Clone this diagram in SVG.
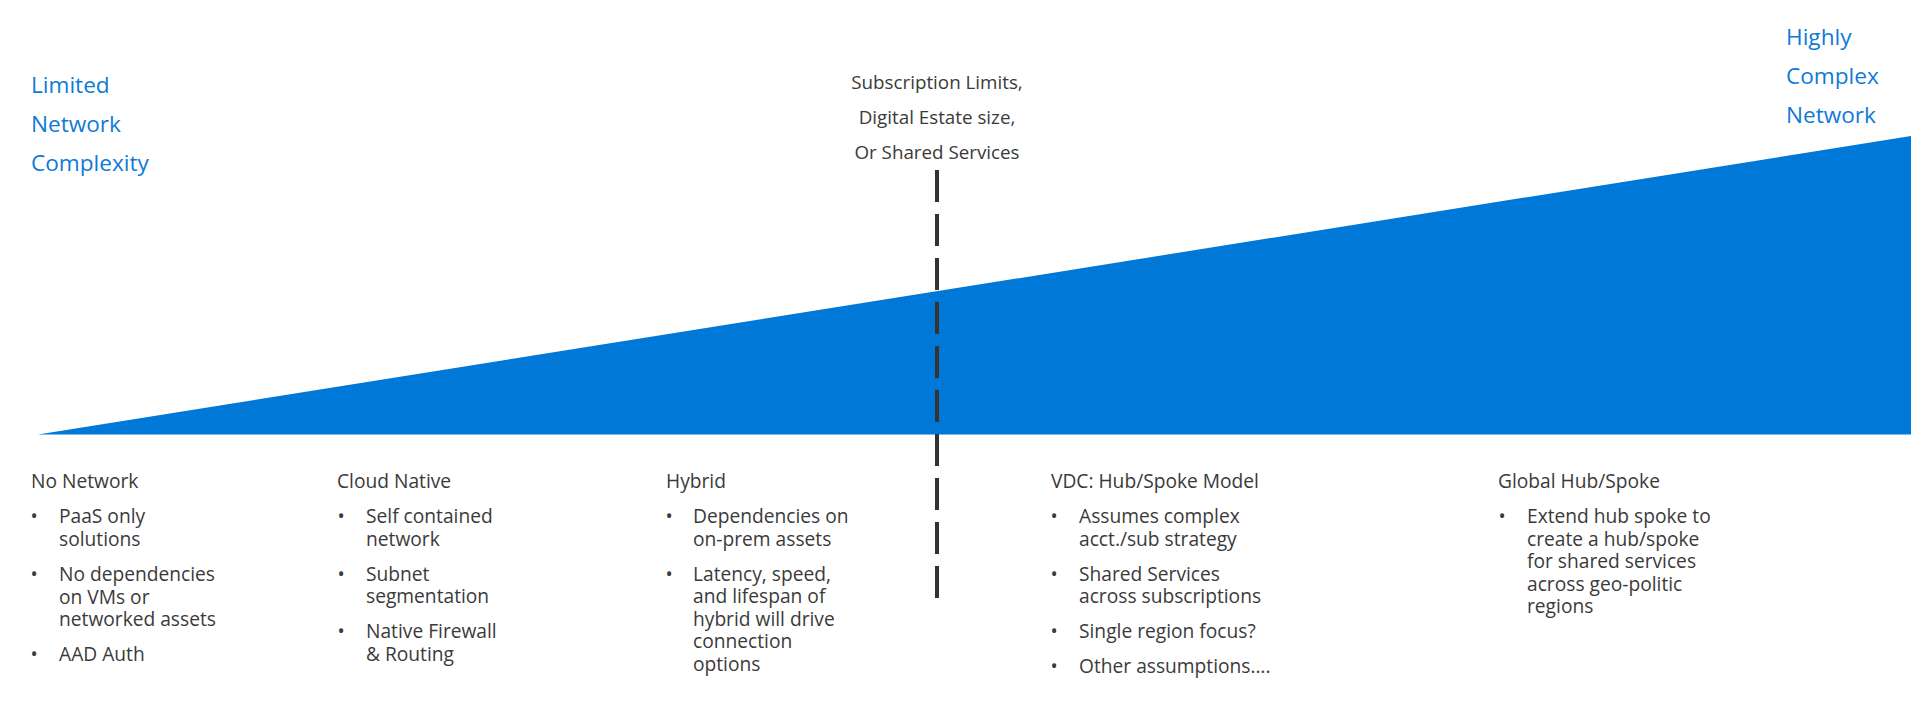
<svg xmlns="http://www.w3.org/2000/svg" width="1911" height="704" viewBox="0 0 1911 704">
  <style>
    .blue { font-family: "Open Sans", "Noto Sans", "Liberation Sans", sans-serif; font-size: 22.6px; fill: #0F7AD6; }
    .gray { font-family: "Open Sans", "Noto Sans", "Liberation Sans", sans-serif; font-size: 19.2px; fill: #3A3A3A; }
    .sub { font-family: "Open Sans", "Noto Sans", "Liberation Sans", sans-serif; font-size: 18.8px; fill: #3A3A3A; text-anchor: middle; }
    .bul { text-anchor: middle; }
  </style>
  <rect x="0" y="0" width="1911" height="704" fill="#FFFFFF"/>

  <g id="wedge">
    <polygon points="38,434.5 1911,136 1911,434.5" fill="#0078D7"/>
  </g>

  <g id="label-limited">
    <text class="blue" x="31" y="93">Limited</text>
    <text class="blue" x="31" y="132">Network</text>
    <text class="blue" x="31" y="171">Complexity</text>
  </g>

  <g id="label-highly">
    <text class="blue" x="1786" y="45">Highly</text>
    <text class="blue" x="1786" y="84">Complex</text>
    <text class="blue" x="1786" y="123">Network</text>
  </g>

  <g id="label-threshold">
    <text class="sub" x="937" y="89">Subscription Limits,</text>
    <text class="sub" x="937" y="124">Digital Estate size,</text>
    <text class="sub" x="937" y="159">Or Shared Services</text>
  </g>

  <g id="connectors">
    <line x1="937" y1="170" x2="937" y2="598" stroke="#333333" stroke-width="4" stroke-dasharray="32 12"/>
  </g>

  <g id="col-no-network">
    <text class="gray" x="31" y="488">No Network</text>
    <text class="gray bul" x="34" y="523">•</text>
    <text class="gray" x="59" y="523">PaaS only</text>
    <text class="gray" x="59" y="545.5">solutions</text>
    <text class="gray bul" x="34" y="581">•</text>
    <text class="gray" x="59" y="581">No dependencies</text>
    <text class="gray" x="59" y="603.5">on VMs or</text>
    <text class="gray" x="59" y="626">networked assets</text>
    <text class="gray bul" x="34" y="660.5">•</text>
    <text class="gray" x="59" y="660.5">AAD Auth</text>
  </g>

  <g id="col-cloud-native">
    <text class="gray" x="337" y="488">Cloud Native</text>
    <text class="gray bul" x="341" y="523">•</text>
    <text class="gray" x="366" y="523">Self contained</text>
    <text class="gray" x="366" y="545.5">network</text>
    <text class="gray bul" x="341" y="580.5">•</text>
    <text class="gray" x="366" y="580.5">Subnet</text>
    <text class="gray" x="366" y="603">segmentation</text>
    <text class="gray bul" x="341" y="638">•</text>
    <text class="gray" x="366" y="638">Native Firewall</text>
    <text class="gray" x="366" y="660.5">&amp; Routing</text>
  </g>

  <g id="col-hybrid">
    <text class="gray" x="666" y="488">Hybrid</text>
    <text class="gray bul" x="669" y="523">•</text>
    <text class="gray" x="693" y="523">Dependencies on</text>
    <text class="gray" x="693" y="545.5">on-prem assets</text>
    <text class="gray bul" x="669" y="580.5">•</text>
    <text class="gray" x="693" y="580.5">Latency, speed,</text>
    <text class="gray" x="693" y="603">and lifespan of</text>
    <text class="gray" x="693" y="625.5">hybrid will drive</text>
    <text class="gray" x="693" y="648">connection</text>
    <text class="gray" x="693" y="670.5">options</text>
  </g>

  <g id="col-vdc">
    <text class="gray" x="1051" y="488">VDC: Hub/Spoke Model</text>
    <text class="gray bul" x="1054" y="523">•</text>
    <text class="gray" x="1079" y="523">Assumes complex</text>
    <text class="gray" x="1079" y="545.5">acct./sub strategy</text>
    <text class="gray bul" x="1054" y="580.5">•</text>
    <text class="gray" x="1079" y="580.5">Shared Services</text>
    <text class="gray" x="1079" y="603">across subscriptions</text>
    <text class="gray bul" x="1054" y="638">•</text>
    <text class="gray" x="1079" y="638">Single region focus?</text>
    <text class="gray bul" x="1054" y="673">•</text>
    <text class="gray" x="1079" y="673">Other assumptions….</text>
  </g>

  <g id="col-global">
    <text class="gray" x="1498" y="488">Global Hub/Spoke</text>
    <text class="gray bul" x="1502" y="523">•</text>
    <text class="gray" x="1527" y="523">Extend hub spoke to</text>
    <text class="gray" x="1527" y="545.5">create a hub/spoke</text>
    <text class="gray" x="1527" y="568">for shared services</text>
    <text class="gray" x="1527" y="590.5">across geo-politic</text>
    <text class="gray" x="1527" y="613">regions</text>
  </g>
</svg>
